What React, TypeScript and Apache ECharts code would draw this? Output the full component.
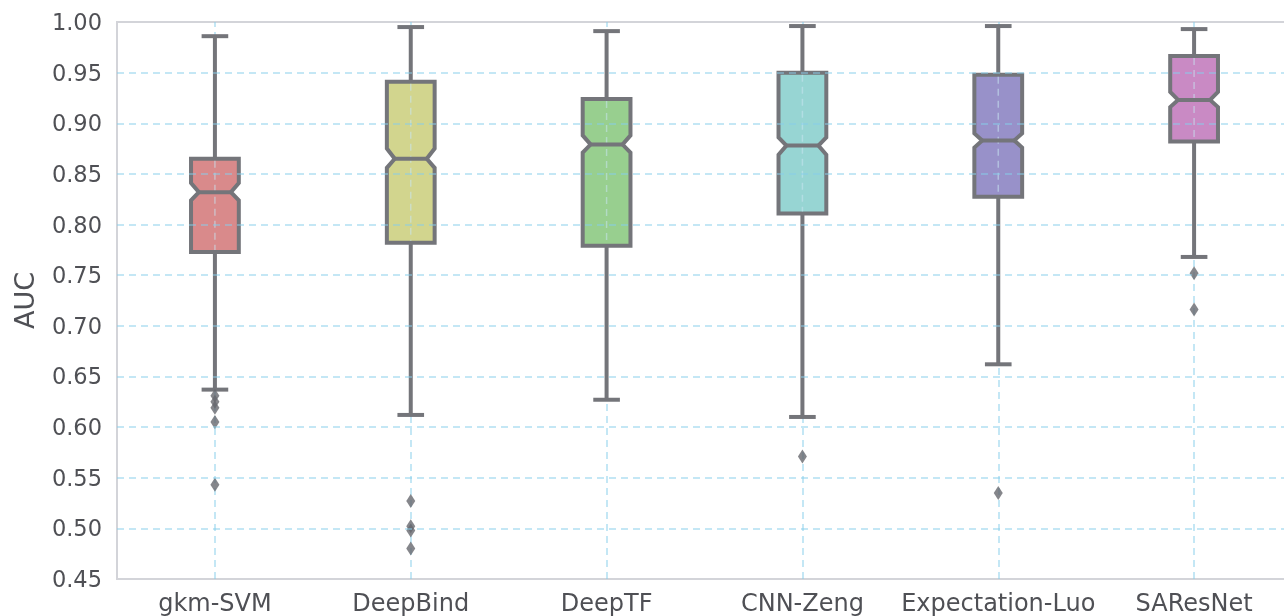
import React, { useEffect, useRef } from "react";
import * as echarts from "echarts";

const categories = ["gkm-SVM", "DeepBind", "DeepTF", "CNN-Zeng", "Expectation-Luo", "SAResNet"];
const whiskerLow = [0.637, 0.612, 0.627, 0.610, 0.662, 0.768];
const q1 = [0.773, 0.782, 0.779, 0.811, 0.8275, 0.882];
const notchLow = [0.824, 0.856, 0.871, 0.869, 0.876, 0.916];
const median = [0.832, 0.865, 0.879, 0.878, 0.883, 0.923];
const notchHigh = [0.841, 0.875, 0.888, 0.886, 0.890, 0.931];
const q3 = [0.865, 0.941, 0.924, 0.950, 0.948, 0.9665];
const whiskerHigh = [0.986, 0.995, 0.991, 0.996, 0.996, 0.993];
const outlierCats = [0, 0, 0, 0, 0, 1, 1, 1, 1, 3, 4, 5, 5];
const outlierVals = [0.631, 0.625, 0.619, 0.605, 0.543, 0.527, 0.502, 0.498, 0.480, 0.571, 0.535, 0.752, 0.716];
const yTicks = { min: 0.45, max: 1.0, step: 0.05 };
const gridValues = [0.5, 0.55, 0.6, 0.65, 0.7, 0.75, 0.8, 0.85, 0.9, 0.95];
const boxColors = ["#d98a8b", "#d2d58e", "#98cf8f", "#97d5d3", "#9891c9", "#c98ac4"];

export default function App() {
  const ref = useRef<HTMLDivElement>(null);
  useEffect(() => {
    if (!ref.current) return;
    const chart = echarts.init(ref.current, null, { renderer: "svg" });
    const stroke = "#74757a";
    const gridColor = "rgba(135,206,235,0.65)";
    const dash = [7, 5];
    const boxData = categories.map((_, i) => [
      i, whiskerLow[i], q1[i], notchLow[i], median[i], notchHigh[i], q3[i], whiskerHigh[i],
    ]);
    chart.setOption({
      animation: false,
      grid: {
        left: 117, top: 22, width: 1175, height: 557,
        show: true, borderColor: "#d3d4d9", borderWidth: 2, backgroundColor: "transparent",
      },
      xAxis: {
        type: "category",
        data: categories,
        axisLine: { show: false },
        axisTick: { show: false },
        splitLine: { show: false },
        axisLabel: { color: "#4f5055", fontSize: 24, fontFamily: "DejaVu Sans", margin: 12, interval: 0 },
      },
      yAxis: {
        type: "value",
        min: yTicks.min,
        max: yTicks.max,
        interval: yTicks.step,
        name: "AUC",
        nameLocation: "middle",
        nameGap: 79,
        nameTextStyle: { color: "#4f5055", fontSize: 27, fontFamily: "DejaVu Sans" },
        axisLine: { show: false },
        axisTick: { show: false },
        axisLabel: {
          color: "#4f5055", fontSize: 22.5, fontFamily: "DejaVu Sans", margin: 15,
          formatter: (v: number) => v.toFixed(2),
        },
        splitLine: { show: false },
      },
      series: [
        {
          type: "scatter",
          z: 1,
          data: [],
          markLine: {
            z: 1,
            silent: true,
            symbol: ["none", "none"],
            label: { show: false },
            lineStyle: { color: gridColor, width: 1.5, type: dash },
            data: categories.map((c) => ({ xAxis: c })),
          },
        },
        {
          type: "custom",
          z: 2,
          data: boxData,
          renderItem: (params: any, api: any) => {
            const i = api.value(0);
            const band = api.size([1, 0])[0];
            const w = band * 0.122;
            const n = w * 0.33;
            const cap = band * 0.068;
            const cx = api.coord([i, 0])[0];
            const y = (k: number) => api.coord([i, api.value(k)])[1];
            const wl = y(1), b1 = y(2), nl = y(3), md = y(4), nh = y(5), b3 = y(6), wh = y(7);
            const ls = { stroke, lineWidth: 4, fill: null };
            return {
              type: "group",
              children: [
                { type: "line", shape: { x1: cx, y1: b3, x2: cx, y2: wh }, style: ls },
                { type: "line", shape: { x1: cx, y1: b1, x2: cx, y2: wl }, style: ls },
                { type: "line", shape: { x1: cx - cap, y1: wh, x2: cx + cap, y2: wh }, style: ls },
                { type: "line", shape: { x1: cx - cap, y1: wl, x2: cx + cap, y2: wl }, style: ls },
                {
                  type: "polygon",
                  shape: {
                    points: [
                      [cx - w, b3], [cx + w, b3], [cx + w, nh], [cx + w - n, md], [cx + w, nl],
                      [cx + w, b1], [cx - w, b1], [cx - w, nl], [cx - w + n, md], [cx - w, nh],
                    ],
                  },
                  style: { fill: boxColors[i], stroke, lineWidth: 4, lineJoin: "miter" },
                },
                {
                  type: "line",
                  shape: { x1: cx, y1: b3 + 2, x2: cx, y2: b1 - 2 },
                  style: { stroke: "rgba(200,230,240,0.55)", lineWidth: 1.5, lineDash: dash, fill: null },
                },
                { type: "line", shape: { x1: cx - w + n, y1: md, x2: cx + w - n, y2: md }, style: ls },
              ],
            };
          },
        },
        {
          type: "scatter",
          z: 3,
          symbol: "diamond",
          symbolSize: [9, 14],
          itemStyle: { color: "#67686e" },
          data: outlierCats.map((c, k) => [c, outlierVals[k]]),
          markLine: {
            silent: true,
            symbol: ["none", "none"],
            label: { show: false },
            lineStyle: { color: gridColor, width: 1.5, type: dash },
            data: gridValues.map((v) => ({ yAxis: v })),
          },
        },
      ],
    });
    return () => chart.dispose();
  }, []);
  return <div ref={ref} style={{ position: "fixed", left: 0, top: 0, width: 1300, height: 616 }} />;
}
